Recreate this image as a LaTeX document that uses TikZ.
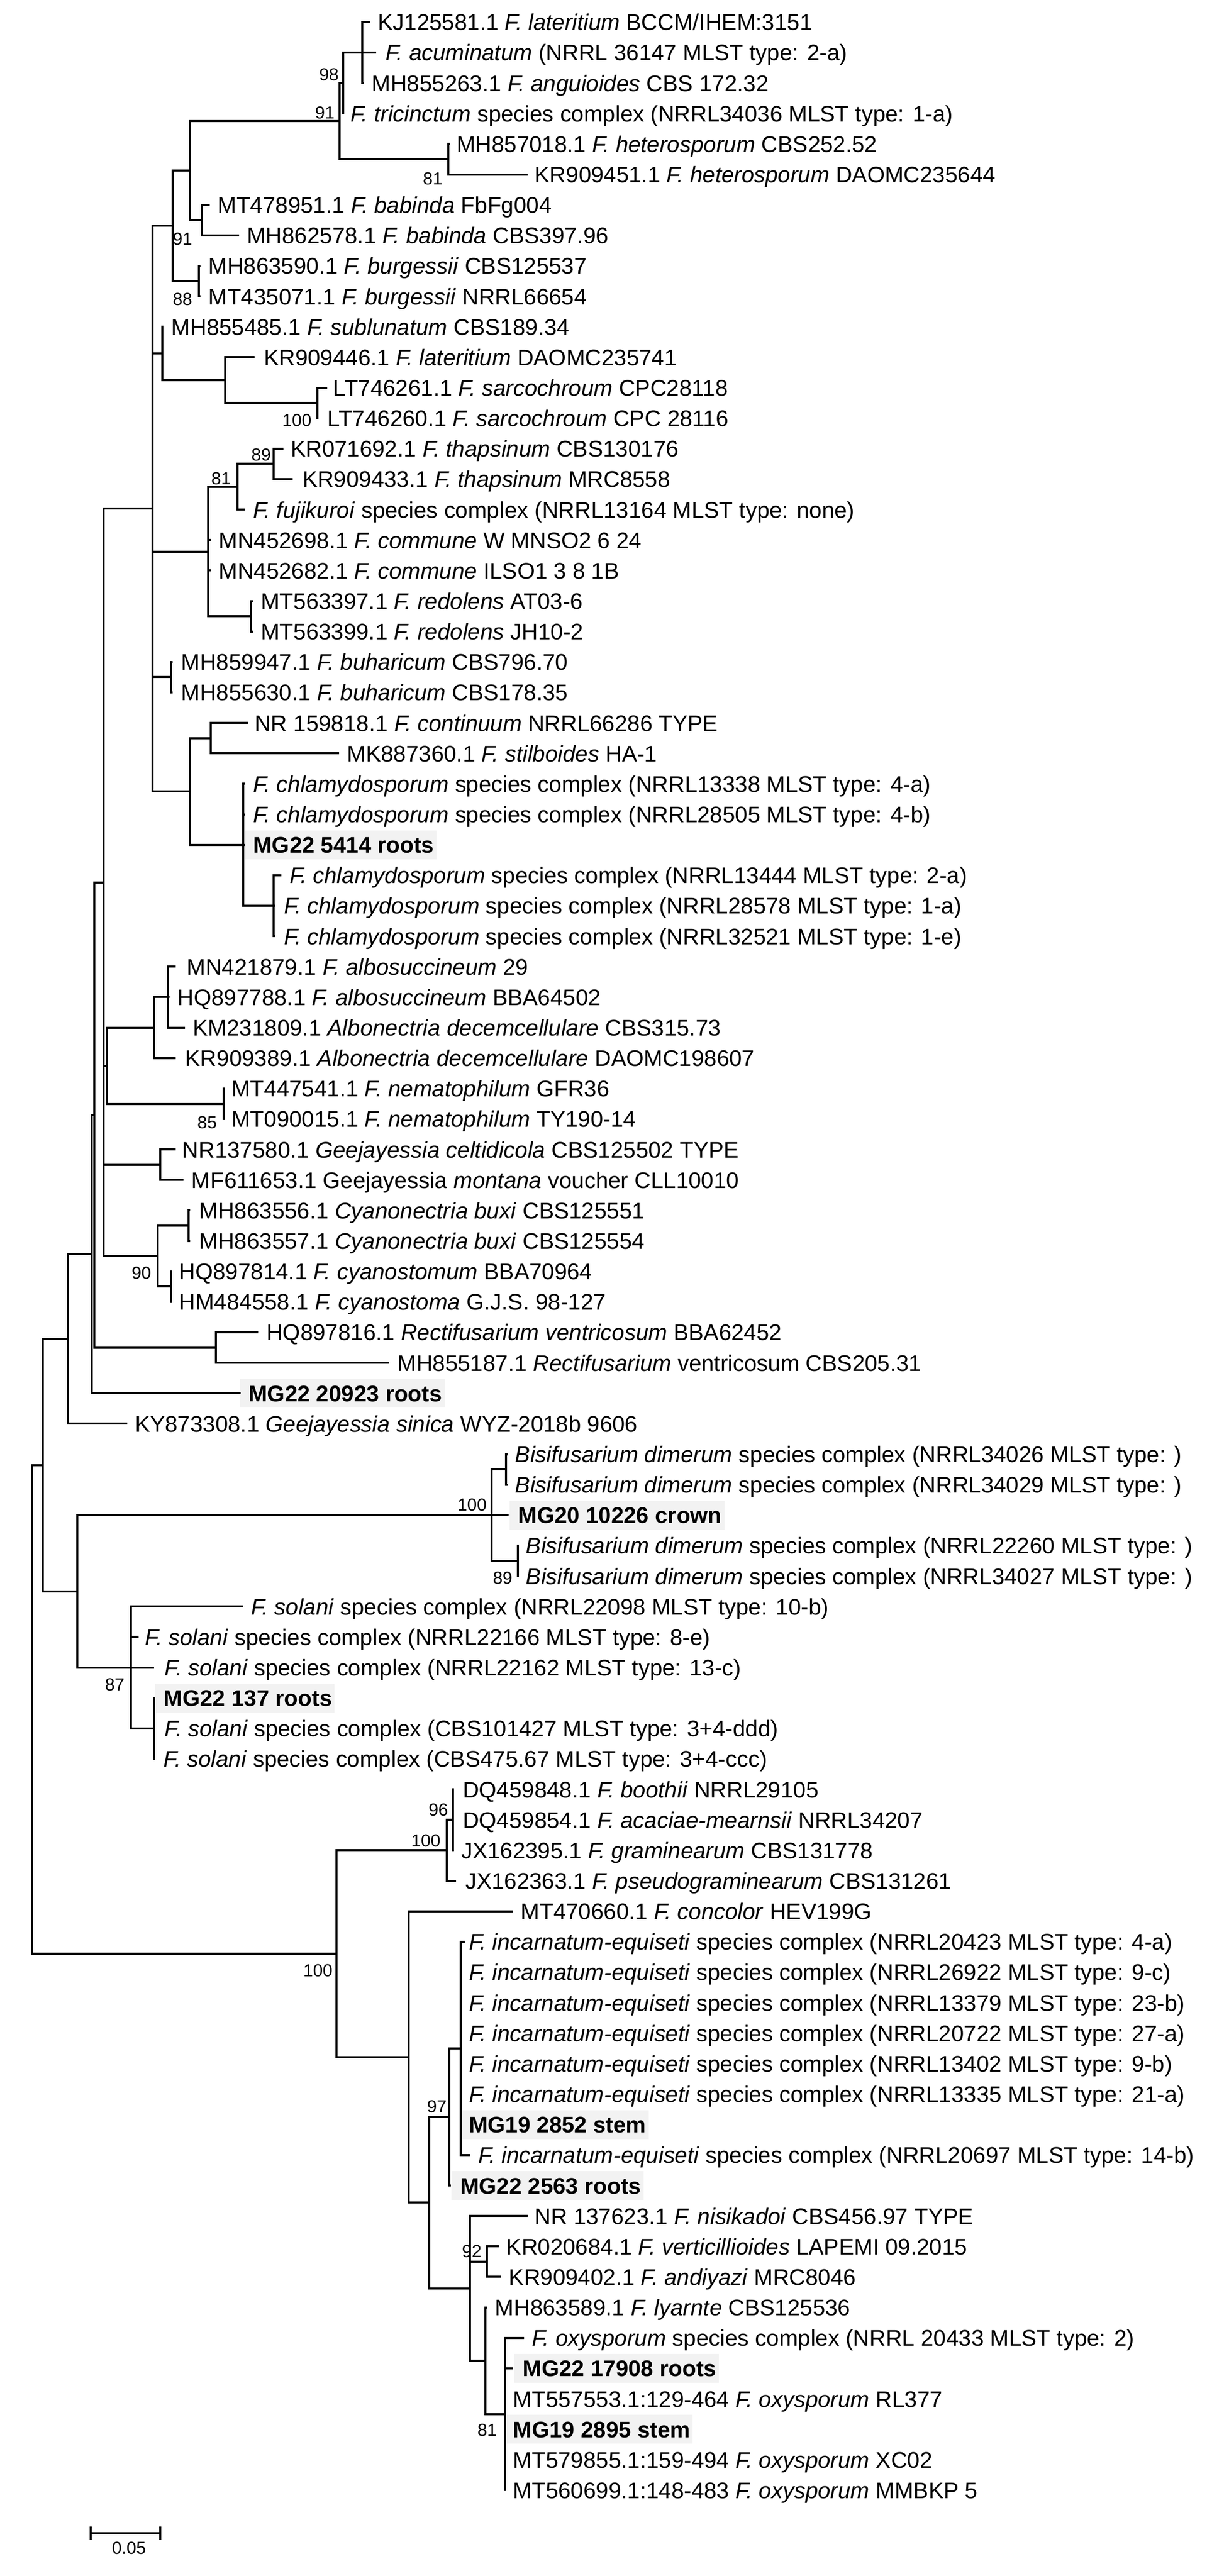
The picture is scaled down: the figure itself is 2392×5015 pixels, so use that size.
\documentclass[tikz,border=0pt]{standalone}
\usepackage{fontspec}
\setmainfont{Liberation Sans}
\usetikzlibrary{calc,backgrounds}
\definecolor{hl}{HTML}{F2F2F2}
\newcommand\tleaf[4]{%
  \coordinate (l#1) at (#2,{43+(#1-1)*59.32});
  \node[lab] (t#1) at (#3,{43+(#1-1)*59.32}) {#4};}
\newcommand\hlbx[1]{\fill[hl] ($(t#1.west |- l#1)+(-16,-28)$) rectangle ($(t#1.east |- l#1)+(4,28)$);}
\newcommand\chl{\textit{F. chlamydosporum} species complex}
\newcommand\bis{\textit{Bisifusarium dimerum} species complex}
\newcommand\sol{\textit{F. solani} species complex}
\newcommand\inc{\textit{F. incarnatum-equiseti} species complex}
\begin{document}
\begin{tikzpicture}[x=0.25pt,y=-0.25pt,
  br/.style={line width=1pt,line join=miter,black},
  lab/.style={anchor=base west,inner sep=0pt,yshift=-4pt,font=\fontsize{11}{13}\selectfont},
  bs/.style={anchor=east,inner sep=0pt,font=\fontsize{8.5}{10}\selectfont}]
\useasboundingbox (0,0) rectangle (2392,5015);
% internal nodes
\coordinate (root) at (62,3327.9);
\coordinate (n83) at (83,2852.3);
\coordinate (n132) at (132,2606.6);
\coordinate (nZ3) at (179,2441.5);
\coordinate (nZ2) at (184,2170.6);
\coordinate (nZ1) at (202,1717.9);
\coordinate (nRec) at (420,2623.4);
\coordinate (nR) at (297,990.3);
\coordinate (nQ) at (336,439.7);
\coordinate (nP) at (370,332.2);
\coordinate (nB) at (661,235.8);
\coordinate (nC) at (668,161.6);
\coordinate (nD) at (705,102.3);
\coordinate (nHet) at (873,310.0);
\coordinate (nBab) at (393,428.6);
\coordinate (nBur) at (387,547.2);
\coordinate (nS) at (316,688.1);
\coordinate (nT) at (438,740.0);
\coordinate (nSar) at (618,784.5);
\coordinate (nU) at (405,1073.7);
\coordinate (nW) at (462,947.6);
\coordinate (nTha) at (533,903.1);
\coordinate (nRed) at (488,1199.7);
\coordinate (nBuh) at (333,1318.4);
\coordinate (nV) at (370,1540.9);
\coordinate (nCS) at (410,1437.0);
\coordinate (nCh) at (473,1644.6);
\coordinate (nChB) at (533,1763.3);
\coordinate (nZ1a) at (208,2074.7);
\coordinate (nAl) at (300,2000.6);
\coordinate (nAlS) at (327,1941.2);
\coordinate (nNem) at (435,2148.9);
\coordinate (nGee) at (312,2267.5);
\coordinate (nCya) at (307,2445.5);
\coordinate (nBux) at (367,2386.1);
\coordinate (nCyb) at (333,2504.8);
\coordinate (n150) at (150,3098.0);
\coordinate (nBi) at (957,2949.7);
\coordinate (nBi1) at (985,2860.7);
\coordinate (nBi2) at (1008,3038.7);
\coordinate (nSo) at (255,3246.3);
\coordinate (nSo2) at (300,3364.9);
\coordinate (nBig) at (655,3803.4);
\coordinate (nG100) at (870,3602.2);
\coordinate (nG96) at (882,3542.9);
\coordinate (nCon) at (795,4004.5);
\coordinate (nMid) at (835,4288.1);
\coordinate (nInc) at (875,4121.3);
\coordinate (nIncB) at (897,3987.8);
\coordinate (nNO) at (915,4454.9);
\coordinate (nVA) at (948,4403.0);
\coordinate (nOx) at (945,4595.8);
\coordinate (nOxB) at (983,4699.6);
% leaves
\tleaf{1}{720}{735}{KJ125581.1 \textit{F. lateritium} BCCM/IHEM:3151}
\tleaf{2}{732}{750}{\textit{F. acuminatum} (NRRL 36147 MLST type: 2-a)}
\tleaf{3}{708}{723}{MH855263.1 \textit{F. anguioides} CBS 172.32}
\tleaf{4}{670}{682}{\textit{F. tricinctum} species complex (NRRL34036 MLST type: 1-a)}
\tleaf{5}{876}{888}{MH857018.1 \textit{F. heterosporum} CBS252.52}
\tleaf{6}{1027}{1040}{KR909451.1 \textit{F. heterosporum} DAOMC235644}
\tleaf{7}{408}{423}{MT478951.1 \textit{F. babinda} FbFg004}
\tleaf{8}{465}{480}{MH862578.1 \textit{F. babinda} CBS397.96}
\tleaf{9}{390}{405}{MH863590.1 \textit{F. burgessii} CBS125537}
\tleaf{10}{390}{405}{MT435071.1 \textit{F. burgessii} NRRL66654}
\tleaf{11}{318}{333}{MH855485.1 \textit{F. sublunatum} CBS189.34}
\tleaf{12}{495}{513}{KR909446.1 \textit{F. lateritium} DAOMC235741}
\tleaf{13}{637}{648}{LT746261.1 \textit{F. sarcochroum} CPC28118}
\tleaf{14}{620}{637}{LT746260.1 \textit{F. sarcochroum} CPC 28116}
\tleaf{15}{552}{565}{KR071692.1 \textit{F. thapsinum} CBS130176}
\tleaf{16}{570}{588}{KR909433.1 \textit{F. thapsinum} MRC8558}
\tleaf{17}{477}{492}{\textit{F. fujikuroi} species complex (NRRL13164 MLST type: none)}
\tleaf{18}{410}{425}{MN452698.1 \textit{F. commune} W MNSO2 6 24}
\tleaf{19}{410}{425}{MN452682.1 \textit{F. commune} ILSO1 3 8 1B}
\tleaf{20}{492}{507}{MT563397.1 \textit{F. redolens} AT03-6}
\tleaf{21}{492}{507}{MT563399.1 \textit{F. redolens} JH10-2}
\tleaf{22}{336}{352}{MH859947.1 \textit{F. buharicum} CBS796.70}
\tleaf{23}{336}{352}{MH855630.1 \textit{F. buharicum} CBS178.35}
\tleaf{24}{483}{495}{NR 159818.1 \textit{F. continuum} NRRL66286 TYPE}
\tleaf{25}{660}{675}{MK887360.1 \textit{F. stilboides} HA-1}
\tleaf{26}{477}{492}{\chl\ (NRRL13338 MLST type: 4-a)}
\tleaf{27}{477}{492}{\chl\ (NRRL28505 MLST type: 4-b)}
\tleaf{28}{477}{492}{\textbf{MG22 5414 roots}}
\tleaf{29}{548}{563}{\chl\ (NRRL13444 MLST type: 2-a)}
\tleaf{30}{536}{552}{\chl\ (NRRL28578 MLST type: 1-a)}
\tleaf{31}{536}{552}{\chl\ (NRRL32521 MLST type: 1-e)}
\tleaf{32}{342}{363}{MN421879.1 \textit{F. albosuccineum} 29}
\tleaf{33}{330}{345}{HQ897788.1 \textit{F. albosuccineum} BBA64502}
\tleaf{34}{360}{375}{KM231809.1 \textit{Albonectria decemcellulare} CBS315.73}
\tleaf{35}{342}{360}{KR909389.1 \textit{Albonectria decemcellulare} DAOMC198607}
\tleaf{36}{437}{450}{MT447541.1 \textit{F. nematophilum} GFR36}
\tleaf{37}{437}{450}{MT090015.1 \textit{F. nematophilum} TY190-14}
\tleaf{38}{342}{354}{NR137580.1 \textit{Geejayessia celtidicola} CBS125502 TYPE}
\tleaf{39}{357}{372}{MF611653.1 Geejayessia \textit{montana} voucher CLL10010}
\tleaf{40}{370}{387}{MH863556.1 \textit{Cyanonectria buxi} CBS125551}
\tleaf{41}{370}{387}{MH863557.1 \textit{Cyanonectria buxi} CBS125554}
\tleaf{42}{335}{348}{HQ897814.1 \textit{F. cyanostomum} BBA70964}
\tleaf{43}{335}{348}{HM484558.1 \textit{F. cyanostoma} G.J.S. 98-127}
\tleaf{44}{502}{518}{HQ897816.1 \textit{Rectifusarium ventricosum} BBA62452}
\tleaf{45}{757}{773}{MH855187.1 \textit{Rectifusarium} ventricosum CBS205.31}
\tleaf{46}{468}{483}{\textbf{MG22 20923 roots}}
\tleaf{47}{248}{262}{KY873308.1 \textit{Geejayessia sinica} WYZ-2018b 9606}
\tleaf{48}{988}{1002}{\bis\ (NRRL34026 MLST type: )}
\tleaf{49}{988}{1002}{\bis\ (NRRL34029 MLST type: )}
\tleaf{50}{990}{1008}{\textbf{MG20 10226 crown}}
\tleaf{51}{1010}{1023}{\bis\ (NRRL22260 MLST type: )}
\tleaf{52}{1010}{1023}{\bis\ (NRRL34027 MLST type: )}
\tleaf{53}{473}{488}{\sol\ (NRRL22098 MLST type: 10-b)}
\tleaf{54}{270}{282}{\sol\ (NRRL22166 MLST type: 8-e)}
\tleaf{55}{300}{320}{\sol\ (NRRL22162 MLST type: 13-c)}
\tleaf{56}{302}{318}{\textbf{MG22 137 roots}}
\tleaf{57}{302}{320}{\sol\ (CBS101427 MLST type: 3+4-ddd)}
\tleaf{58}{302}{318}{\sol\ (CBS475.67 MLST type: 3+4-ccc)}
\tleaf{59}{884}{900}{DQ459848.1 \textit{F. boothii} NRRL29105}
\tleaf{60}{884}{900}{DQ459854.1 \textit{F. acaciae-mearnsii} NRRL34207}
\tleaf{61}{884}{897}{JX162395.1 \textit{F. graminearum} CBS131778}
\tleaf{62}{888}{905}{JX162363.1 \textit{F. pseudograminearum} CBS131261}
\tleaf{63}{998}{1013}{MT470660.1 \textit{F. concolor} HEV199G}
\tleaf{64}{905}{912}{\inc\ (NRRL20423 MLST type: 4-a)}
\tleaf{65}{899}{912}{\inc\ (NRRL26922 MLST type: 9-c)}
\tleaf{66}{899}{912}{\inc\ (NRRL13379 MLST type: 23-b)}
\tleaf{67}{899}{912}{\inc\ (NRRL20722 MLST type: 27-a)}
\tleaf{68}{899}{912}{\inc\ (NRRL13402 MLST type: 9-b)}
\tleaf{69}{899}{912}{\inc\ (NRRL13335 MLST type: 21-a)}
\tleaf{70}{899}{912}{\textbf{MG19 2852 stem}}
\tleaf{71}{915}{930}{\inc\ (NRRL20697 MLST type: 14-b)}
\tleaf{72}{878}{895}{\textbf{MG22 2563 roots}}
\tleaf{73}{1027}{1040}{NR 137623.1 \textit{F. nisikadoi} CBS456.97 TYPE}
\tleaf{74}{972}{985}{KR020684.1 \textit{F. verticillioides} LAPEMI 09.2015}
\tleaf{75}{975}{990}{KR909402.1 \textit{F. andiyazi} MRC8046}
\tleaf{76}{948}{963}{MH863589.1 \textit{F. lyarnte} CBS125536}
\tleaf{77}{1020}{1035}{\textit{F. oxysporum} species complex (NRRL 20433 MLST type: 2)}
\tleaf{78}{998}{1017}{\textbf{MG22 17908 roots}}
\tleaf{79}{985}{998}{MT557553.1:129-464 \textit{F. oxysporum} RL377}
\tleaf{80}{985}{998}{\textbf{MG19 2895 stem}}
\tleaf{81}{985}{998}{MT579855.1:159-494 \textit{F. oxysporum} XC02}
\tleaf{82}{985}{998}{MT560699.1:148-483 \textit{F. oxysporum} MMBKP 5}
% background and highlight boxes
\begin{scope}[on background layer]
\fill[white] (0,0) rectangle (2392,5015);
\foreach \i in {28,46,50,56,70,72,78,80} {\hlbx{\i}}
\end{scope}
% branches
\foreach \p/\c in {root/n83,root/nBig,n83/n132,n83/n150,n132/nZ3,n132/l47,
  nZ3/nZ2,nZ3/l46,nZ2/nZ1,nZ2/nRec,nRec/l44,nRec/l45,
  nZ1/nR,nZ1/nZ1a,nZ1/nGee,nZ1/nCya,
  nR/nQ,nR/nS,nR/nU,nR/nBuh,nR/nV,
  nQ/nP,nQ/nBur,nP/nB,nP/nBab,nB/nC,nB/nHet,nC/nD,nC/l4,
  nD/l1,nD/l2,nD/l3,nHet/l5,nHet/l6,nBab/l7,nBab/l8,nBur/l9,nBur/l10,
  nS/l11,nS/nT,nT/l12,nT/nSar,nSar/l13,nSar/l14,
  nU/nW,nU/l18,nU/l19,nU/nRed,nW/nTha,nW/l17,nTha/l15,nTha/l16,nRed/l20,nRed/l21,
  nBuh/l22,nBuh/l23,nV/nCS,nV/nCh,nCS/l24,nCS/l25,
  nCh/l26,nCh/l27,nCh/l28,nCh/nChB,nChB/l29,nChB/l30,nChB/l31,
  nZ1a/nAl,nZ1a/nNem,nAl/nAlS,nAl/l35,nAlS/l32,nAlS/l33,nAlS/l34,
  nNem/l36,nNem/l37,nGee/l38,nGee/l39,nCya/nBux,nCya/nCyb,
  nBux/l40,nBux/l41,nCyb/l42,nCyb/l43,
  n150/nBi,n150/nSo,nBi/nBi1,nBi/l50,nBi/nBi2,nBi1/l48,nBi1/l49,nBi2/l51,nBi2/l52,
  nSo/l53,nSo/l54,nSo/l55,nSo/nSo2,nSo2/l56,nSo2/l57,nSo2/l58,
  nBig/nG100,nBig/nCon,nG100/nG96,nG100/l62,nG96/l59,nG96/l60,nG96/l61,
  nCon/l63,nCon/nMid,nMid/nInc,nMid/nNO,nInc/nIncB,nInc/l72,
  nIncB/l64,nIncB/l65,nIncB/l66,nIncB/l67,nIncB/l68,nIncB/l69,nIncB/l70,nIncB/l71,
  nNO/l73,nNO/nVA,nNO/nOx,nVA/l74,nVA/l75,nOx/l76,nOx/nOxB,
  nOxB/l77,nOxB/l78,nOxB/l79,nOxB/l80,nOxB/l81,nOxB/l82}
  {\draw[br] (\p) |- (\c);}
% bootstrap values
\node[bs] (b1) at (660,145) {98};
\node[bs] (b2) at (652,219) {91};
\node[bs] (b3) at (862,348) {81};
\node[bs] (b4) at (375,465) {91};
\node[bs] (b5) at (375,583) {88};
\node[bs] (b6) at (607,818) {100};
\node[bs] (b7) at (528,885) {89};
\node[bs] (b8) at (450,932) {81};
\node[bs] (b9) at (423,2185) {85};
\node[bs] (b10) at (295,2478) {90};
\node[bs] (b11) at (948,2930) {100};
\node[bs] (b12) at (998,3072) {89};
\node[bs] (b13) at (243,3280) {87};
\node[bs] (b14) at (873,3523) {96};
\node[bs] (b15) at (858,3583) {100};
\node[bs] (b16) at (648,3836) {100};
\node[bs] (b17) at (870,4101) {97};
\node[bs] (b18) at (938,4383) {92};
\node[bs] (b19) at (968,4731) {81};
% scale bar
\coordinate (sbL) at (177,4932);
\coordinate (sbR) at (312,4932);
\coordinate (sbLt) at (177,4919);
\coordinate (sbLb) at (177,4945);
\coordinate (sbRt) at (312,4919);
\coordinate (sbRb) at (312,4945);
\draw[br] (sbL) -- (sbR);
\draw[br] (sbLt) -- (sbLb);
\draw[br] (sbRt) -- (sbRb);
\node[inner sep=0pt,font=\fontsize{8.5}{10}\selectfont] (sbT) at (251,4961) {0.05};
\end{tikzpicture}
\end{document}
